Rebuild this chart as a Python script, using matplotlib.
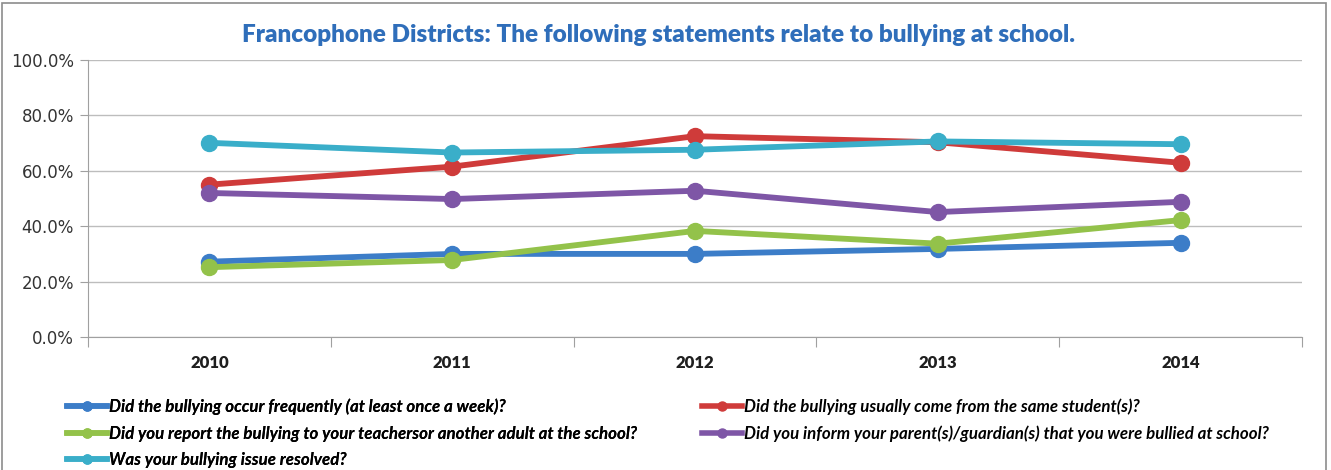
import matplotlib
matplotlib.use("Agg")
import matplotlib.pyplot as plt
from matplotlib.lines import Line2D
from matplotlib.patches import Rectangle
from matplotlib.ticker import FuncFormatter

years = ["2010", "2011", "2012", "2013", "2014"]

occur_weekly = [27.2, 30.0, 30.0, 31.8, 34.0]
same_student = [55.0, 61.5, 72.5, 70.3, 62.9]
told_teacher = [25.2, 27.8, 38.3, 33.7, 42.2]
told_parent = [52.0, 49.8, 52.8, 45.1, 48.8]
resolved = [70.1, 66.6, 67.6, 70.6, 69.6]

labels = [
    "Did the bullying occur frequently (at least once a week)?",
    "Did the bullying usually come from the same student(s)?",
    "Did you report the bullying to your teachersor another adult at the school?",
    "Did you inform your parent(s)/guardian(s) that you were bullied at school?",
    "Was your bullying issue resolved?",
]
colors = ["#3C7DC8", "#CF3B3A", "#93C24A", "#7E56A6", "#3AAEC9"]
series = [occur_weekly, same_student, told_teacher, told_parent, resolved]

title = "Francophone Districts: The following statements relate to bullying at school."

fig = plt.figure(figsize=(13.31, 4.70), dpi=100)
ax = fig.add_axes([88 / 1331, 1 - 337 / 470, (1302 - 88) / 1331, (337 - 60) / 470])

x = list(range(len(years)))
for vals, col in zip(series, colors):
    ax.plot(x, vals, color=col, lw=4.2, marker="o", markersize=11.5,
            markeredgecolor=col, solid_capstyle="round")

ax.set_xlim(-0.5, len(years) - 0.5)
ax.set_ylim(0, 100)
ax.set_yticks([0, 20, 40, 60, 80, 100])
ax.yaxis.set_major_formatter(FuncFormatter(lambda v, p: "%.1f%%" % v))
ax.grid(axis="y", color="#BDBDBD", lw=1.0)
ax.set_axisbelow(True)

ax.set_xticks([i - 0.5 for i in range(len(years) + 1)])
ax.set_xticklabels([])
ax.set_xticks(x, minor=True)
ax.set_xticklabels(years, minor=True, fontweight="heavy", fontsize=12,
                   color="#1F1F1F", family="Lato")
ax.tick_params(axis="x", which="minor", length=0, pad=13)
ax.tick_params(axis="x", which="major", length=7, color="#A0A0A0")
ax.tick_params(axis="y", length=6, color="#A0A0A0", labelsize=12,
               labelcolor="#333333", pad=4)

for s in ["top", "right"]:
    ax.spines[s].set_visible(False)
for s in ["left", "bottom"]:
    ax.spines[s].set_color("#A0A0A0")

fig.text(658 / 1331, 1 - 35 / 470, title, ha="center", va="center",
         fontsize=17.5, fontweight="heavy", color="#2F6EBA", family="Lato")

def make_handle(col):
    return Line2D([0], [0], color=col, lw=4, marker="o", markersize=6.5)

legend_font = {"family": "Lato", "style": "italic", "weight": "bold", "size": 12.2}
left_idx = [0, 2, 4]
right_idx = [1, 3]
leg1 = fig.legend([make_handle(colors[i]) for i in left_idx], [labels[i] for i in left_idx],
                  loc="upper left", bbox_to_anchor=(60 / 1331, 1 - 392 / 470),
                  frameon=False, prop=legend_font, handlelength=2.4,
                  handletextpad=0.12, labelspacing=0.6, borderaxespad=0)
fig.legend([make_handle(colors[i]) for i in right_idx], [labels[i] for i in right_idx],
           loc="upper left", bbox_to_anchor=(695 / 1331, 1 - 392 / 470),
           frameon=False, prop=legend_font, handlelength=2.4,
           handletextpad=0.12, labelspacing=0.6, borderaxespad=0)
fig.add_artist(leg1)

fig.patches.append(Rectangle((2 / 1331, -0.02), 1324 / 1331, 1.0 - 3 / 470 + 0.02,
                             transform=fig.transFigure, fill=False,
                             edgecolor="#8C8C8C", lw=1.2))

fig.savefig("out.png", dpi=100)
